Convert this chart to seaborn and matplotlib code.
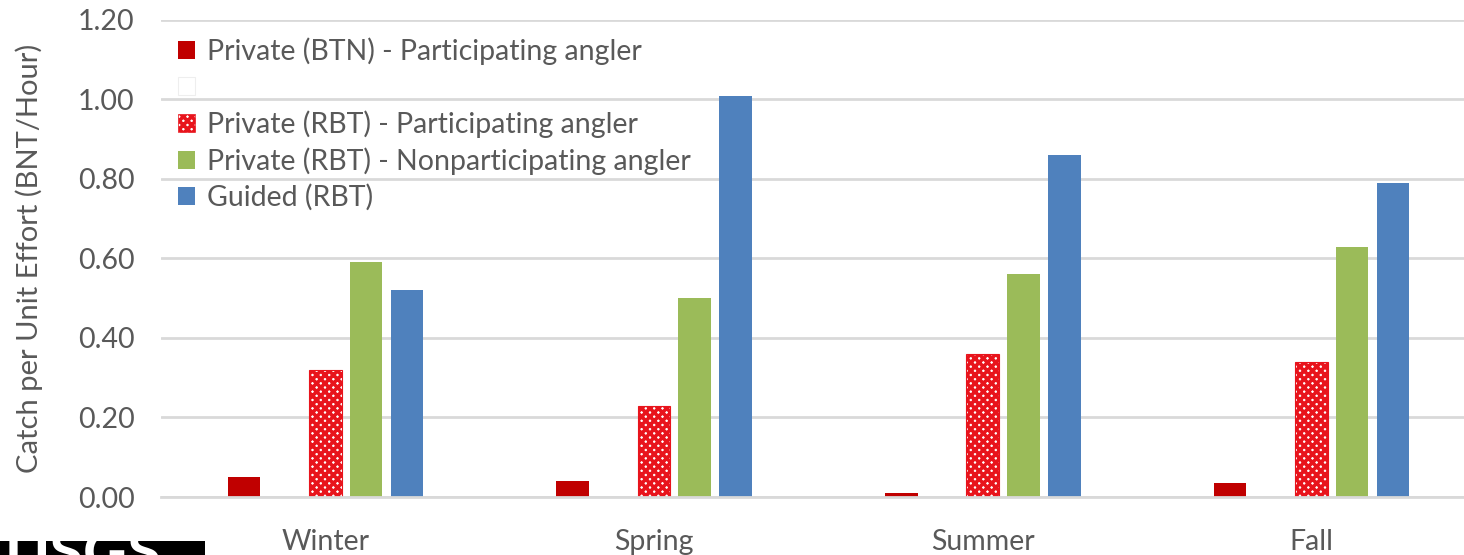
import pandas as pd
import numpy as np
import seaborn as sns
import matplotlib.pyplot as plt
from matplotlib.patches import Patch, Rectangle

seasons = ['Winter', 'Spring', 'Summer', 'Fall']
groups = ['Private (BTN) - Participating angler',
          ' ',
          'Private (RBT) - Participating angler',
          'Private (RBT) - Nonparticipating angler',
          'Guided (RBT)']
btn_private = [0.05, 0.04, 0.01, 0.035]
btn_blank = [0.0, 0.0, 0.0, 0.0]
rbt_private = [0.32, 0.23, 0.36, 0.34]
rbt_nonpart = [0.59, 0.50, 0.56, 0.63]
rbt_guided = [0.52, 1.01, 0.86, 0.79]
yticks = [0.0, 0.2, 0.4, 0.6, 0.8, 1.0, 1.2]

colors = ['#C00000', '#FFFFFF', '#E8141C', '#9BBB59', '#4F81BD']

rows = []
for g, vals in zip(groups, [btn_private, btn_blank, rbt_private, rbt_nonpart, rbt_guided]):
    for s, v in zip(seasons, vals):
        rows.append({'Season': s, 'Group': g, 'CPUE': v})
df = pd.DataFrame(rows)

sns.set_style('white')
plt.rcParams['font.family'] = ['Lato', 'DejaVu Sans']
plt.rcParams['hatch.linewidth'] = 2.6

fig = plt.figure(figsize=(14.64, 5.55), dpi=100)
ax = fig.add_axes([0.110, 0.1045, 0.898, 0.8595])

sns.barplot(data=df, x='Season', y='CPUE', hue='Group', hue_order=groups,
            order=seasons, palette=colors, saturation=1, width=0.62, gap=0.2,
            legend=False, linewidth=0, ax=ax)

# checker pattern for the RBT participating bars
for bar in ax.containers[2]:
    bar.set_facecolor('white')
    bar.set_edgecolor('#E8141C')
    bar.set_hatch('xxxx')
    bar.set_linewidth(0.8)

ax.set_ylim(0, 1.2)
ax.set_yticks(yticks)
ax.set_yticklabels([f'{t:.2f}' for t in yticks])
ax.yaxis.grid(True, color='#d9d9d9', linewidth=2)
ax.set_axisbelow(True)
for side in ['left', 'right', 'top']:
    ax.spines[side].set_visible(False)
ax.spines['bottom'].set_color('#d9d9d9')
ax.spines['bottom'].set_linewidth(2)
ax.tick_params(axis='both', length=0, labelsize=20.5, labelcolor='#595959')
ax.tick_params(axis='x', pad=23)
ax.tick_params(axis='y', pad=19)
ax.set_xlabel('')
ax.set_ylabel('Catch per Unit Effort (BNT/Hour)', fontsize=21, color='#595959', labelpad=25)

handles = [Patch(facecolor='#C00000', edgecolor='none'),
           Patch(facecolor='white', edgecolor='#eeeeee', linewidth=0.8),
           Patch(facecolor='white', edgecolor='#E8141C', hatch='xxxx', linewidth=0.5),
           Patch(facecolor='#9BBB59', edgecolor='none'),
           Patch(facecolor='#4F81BD', edgecolor='none')]
labels = [groups[0], '', groups[2], groups[3], groups[4]]
leg = ax.legend(handles, labels, loc='upper left', bbox_to_anchor=(0.013, 0.963),
                frameon=False, fontsize=20.5, handlelength=0.6, handleheight=0.6,
                handletextpad=0.42, labelspacing=0.33, borderaxespad=0, borderpad=0)
for t in leg.get_texts():
    t.set_color('#595959')

# partial logo at the bottom left
fig.patches.append(Rectangle((0, 0), 205 / 1464, 14 / 555, transform=fig.transFigure,
                             facecolor='black', edgecolor='none'))
fig.text(0.003, -0.05, 'USGS', color='white', fontsize=44, fontweight='bold',
         ha='left', va='bottom')

plt.savefig('out.png', dpi=100)
